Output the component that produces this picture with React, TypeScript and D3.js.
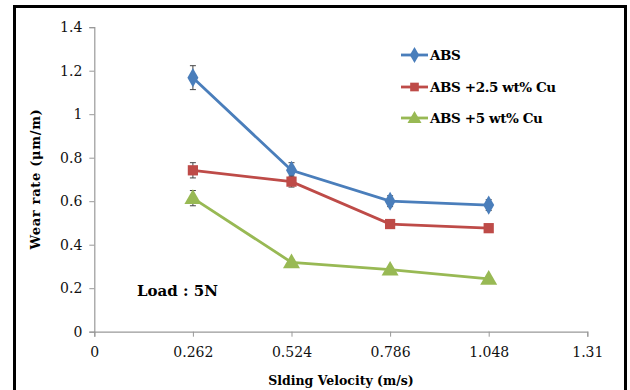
import { useEffect, useRef } from "react";
import * as d3 from "d3";

const velocities = [0.262, 0.524, 0.786, 1.048];
const xTicks = [0, 0.262, 0.524, 0.786, 1.048, 1.31];
const yTicks = [0, 0.2, 0.4, 0.6, 0.8, 1, 1.2, 1.4];

const seriesNames = ["ABS", "ABS +2.5 wt% Cu", "ABS +5 wt% Cu"];
const absValues = [1.168, 0.742, 0.6, 0.582];
const absErr = [0.055, 0.035, 0.025, 0.025];
const cu25Values = [0.742, 0.69, 0.495, 0.476];
const cu25Err = [0.035, 0.025, 0.0, 0.0];
const cu5Values = [0.614, 0.319, 0.285, 0.243];
const cu5Err = [0.035, 0.01, 0.01, 0.0];

const colors = ["#4a7ebb", "#be4b48", "#98b954"];
const markerShapes = [d3.symbolDiamond, d3.symbolSquare, d3.symbolTriangle];

const W = 630;
const H = 390;

export default function App() {
  const svgRef = useRef<SVGSVGElement>(null);

  useEffect(() => {
    const svg = d3.select(svgRef.current);
    svg.selectAll("*").remove();

    const x = d3.scaleLinear().domain([0, 1.31]).range([94.3, 587.3]);
    const y = d3.scaleLinear().domain([0, 1.4]).range([331.7, 27.2]);

    // frame
    svg.append("rect").attr("width", W).attr("height", H).attr("fill", "#fff");
    svg
      .append("path")
      .attr("d", `M14.5,${H} V6.5 H625.5 V${H}`)
      .attr("fill", "none")
      .attr("stroke", "#000")
      .attr("stroke-width", 3);

    const font = "DejaVu Serif";

    // y axis
    const yAxis = svg
      .append("g")
      .attr("transform", `translate(${x(0)},0)`)
      .call(
        d3
          .axisLeft(y)
          .tickValues(yTicks)
          .tickSize(5)
          .tickPadding(7)
          .tickFormat((d) => d3.format("")(+d))
      );
    yAxis.select(".domain").attr("stroke", "#999").attr("stroke-width", 1.2);
    yAxis.selectAll(".tick line").attr("stroke", "#999");
    yAxis
      .selectAll("text")
      .style("font-family", font)
      .style("font-size", "14px")
      .attr("fill", "#111");

    // x axis
    const xAxis = svg
      .append("g")
      .attr("transform", `translate(0,${y(0)})`)
      .call(
        d3
          .axisBottom(x)
          .tickValues(xTicks)
          .tickSize(5)
          .tickPadding(10)
          .tickFormat((d) => String(d))
      );
    xAxis.select(".domain").attr("stroke", "#999").attr("stroke-width", 1.2);
    xAxis.selectAll(".tick line").attr("stroke", "#999");
    xAxis
      .selectAll("text")
      .style("font-family", font)
      .style("font-size", "14px")
      .attr("fill", "#111");

    // axis titles
    svg
      .append("text")
      .attr("transform", `translate(40,179) rotate(-90)`)
      .attr("text-anchor", "middle")
      .style("font-family", font)
      .style("font-weight", "bold")
      .style("font-size", "13px")
      .attr("letter-spacing", 0.7)
      .text("Wear rate (μm/m)");
    svg
      .append("text")
      .attr("x", 341)
      .attr("y", 385)
      .attr("text-anchor", "middle")
      .style("font-family", font)
      .style("font-weight", "bold")
      .style("font-size", "12.5px")
      .text("Slding Velocity (m/s)");

    svg
      .append("text")
      .attr("x", 137)
      .attr("y", 296)
      .style("font-family", font)
      .style("font-weight", "bold")
      .style("font-size", "15px")
      .text("Load : 5N");

    const allValues = [absValues, cu25Values, cu5Values];
    const allErr = [absErr, cu25Err, cu5Err];
    const line = d3
      .line<number>()
      .x((_, i) => x(velocities[i]))
      .y((d) => y(d));

    allValues.forEach((vals, s) => {
      const g = svg.append("g");
      g.append("path")
        .attr("d", line(vals))
        .attr("fill", "none")
        .attr("stroke", colors[s])
        .attr("stroke-width", 2.8);

      // error bars
      vals.forEach((v, i) => {
        const e = allErr[s][i];
        if (e <= 0) return;
        const cx = x(velocities[i]);
        const eg = g.append("g").attr("stroke", "#444").attr("stroke-width", 1);
        eg.append("line").attr("x1", cx).attr("x2", cx).attr("y1", y(v + e)).attr("y2", y(v - e));
        eg.append("line").attr("x1", cx - 3).attr("x2", cx + 3).attr("y1", y(v + e)).attr("y2", y(v + e));
        eg.append("line").attr("x1", cx - 3).attr("x2", cx + 3).attr("y1", y(v - e)).attr("y2", y(v - e));
      });

      const sym = d3.symbol(markerShapes[s], s === 2 ? 125 : 105);
      g.selectAll(".m")
        .data(vals)
        .join("path")
        .attr("transform", (d, i) => `translate(${x(velocities[i])},${y(d) + (s === 2 ? 1 : 0)})`)
        .attr("d", sym()!)
        .attr("fill", colors[s]);
    });

    // legend
    const legendY = [55, 87, 118];
    seriesNames.forEach((name, s) => {
      const g = svg.append("g").attr("transform", `translate(401,${legendY[s]})`);
      g.append("line")
        .attr("x1", 0)
        .attr("x2", 27)
        .attr("stroke", colors[s])
        .attr("stroke-width", 2.8);
      g.append("path")
        .attr("transform", `translate(13.5,${s === 2 ? 1 : 0})`)
        .attr("d", d3.symbol(markerShapes[s], s === 2 ? 85 : 75)()!)
        .attr("fill", colors[s]);
      g.append("text")
        .attr("x", 29)
        .attr("y", 5)
        .style("font-family", font)
        .style("font-weight", "bold")
        .style("font-size", "13.5px")
        .attr("letter-spacing", -0.4)
        .text(name);
    });
  }, []);

  return (
    <svg
      ref={svgRef}
      width={W}
      height={H}
      style={{ position: "absolute", left: 0, top: 0, display: "block" }}
    />
  );
}
